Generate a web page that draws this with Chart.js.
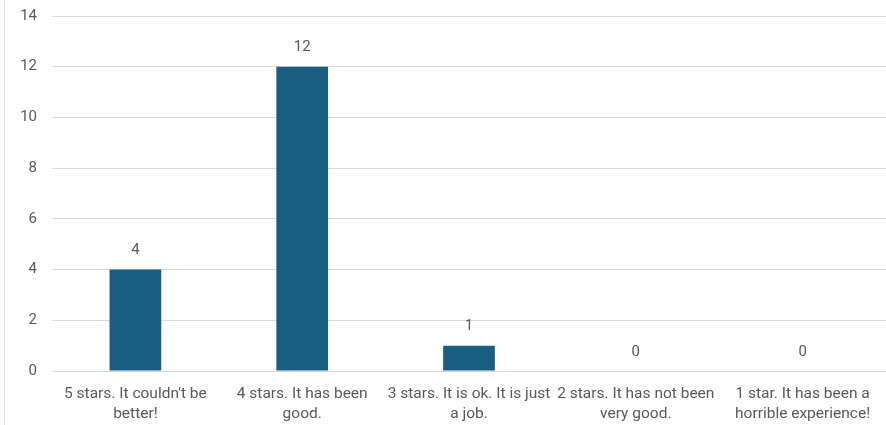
<!DOCTYPE html>
<html>
<head>
<meta charset="utf-8">
<script src="https://cdn.jsdelivr.net/npm/chart.js@4"></script>
<style>
  html, body { margin: 0; padding: 0; background: #fff; overflow: hidden; }
  #wrap { position: relative; width: 886px; height: 425px; overflow: hidden; }
  #edge { position: absolute; left: 4px; top: 0; bottom: 0; border-left: 1px solid #d9d9d9; z-index: 1; }
  #grafico { position: absolute; left: 0; top: -8px; }
</style>
</head>
<body>
<div id="wrap">
  <div id="edge"></div>
  <canvas id="grafico" width="886" height="433"></canvas>
</div>
<script>
// Dados do gráfico
const categorias = [
    ["5 stars. It couldn't be", "better!"],
    ["4 stars. It has been", "good."],
    ["3 stars. It is ok. It is just", "a job."],
    ["2 stars. It has not been", "very good."],
    ["1 star. It has been a", "horrible experience!"]
];
const respostas = [4, 12, 1, 0, 0];
const ticksY = [0, 2, 4, 6, 8, 10, 12, 14];

const corTexto = '#595959';
const fonte = "Roboto, 'Liberation Sans', sans-serif";

// rótulos de valor acima das barras
const rotulosPlugin = {
    id: 'rotulos',
    afterDatasetsDraw(chart) {
        const ctx = chart.ctx;
        const meta = chart.getDatasetMeta(0);
        ctx.save();
        ctx.fillStyle = corTexto;
        ctx.font = `15px ${fonte}`;
        ctx.textAlign = 'center';
        ctx.textBaseline = 'middle';
        meta.data.forEach((bar, i) => {
            ctx.fillText(String(respostas[i]), bar.x, bar.y - 19);
        });
        ctx.restore();
    }
};

new Chart(document.getElementById('grafico').getContext('2d'), {
    type: 'bar',
    data: {
        labels: categorias,
        datasets: [{
            data: respostas,
            backgroundColor: '#185e80',
            barPercentage: 0.31,
            categoryPercentage: 1.0
        }]
    },
    options: {
        responsive: false,
        animation: false,
        layout: { padding: 0 },
        plugins: {
            legend: { display: false },
            tooltip: { enabled: false }
        },
        scales: {
            x: {
                grid: { display: false },
                border: { display: false },
                ticks: {
                    color: corTexto,
                    font: { size: 15.5, family: fonte, lineHeight: 1.3 },
                    maxRotation: 0,
                    autoSkip: false,
                    padding: 5
                },
                afterFit(s) { s.height = 54; }
            },
            y: {
                min: 0,
                max: 14,
                afterBuildTicks(s) { s.ticks = ticksY.map(v => ({ value: v })); },
                grid: { color: '#d9d9d9', drawTicks: false },
                border: { display: false },
                ticks: {
                    color: corTexto,
                    font: { size: 15, family: fonte },
                    padding: 15
                },
                afterFit(s) { s.width = 52; }
            }
        }
    },
    plugins: [rotulosPlugin]
});
</script>
</body>
</html>
